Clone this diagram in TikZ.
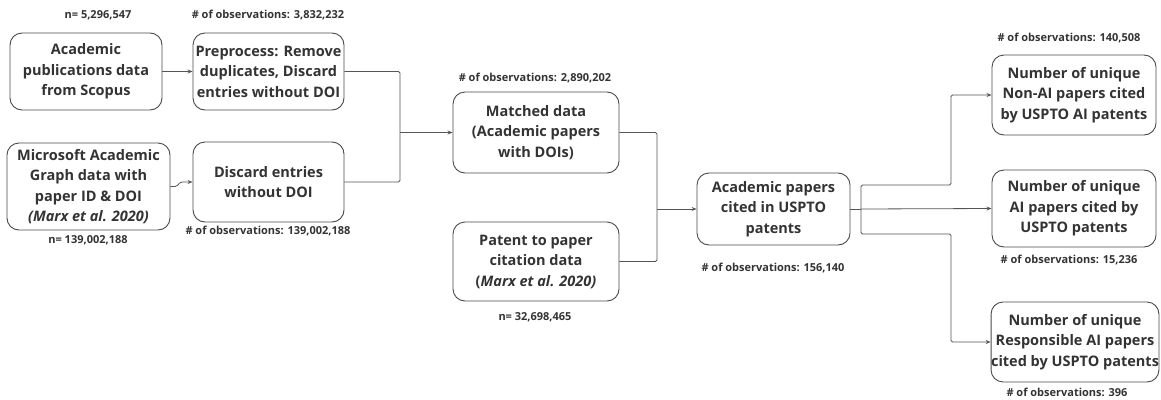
\documentclass[tikz,border=0pt]{standalone}
\usepackage{fontspec}
\setmainfont{Open Sans}
\usetikzlibrary{arrows.meta}
\definecolor{txt}{HTML}{333333}
\definecolor{boxc}{HTML}{4A4A4A}
\definecolor{linec}{HTML}{555555}
\begin{document}
\begin{tikzpicture}[x=1pt,y=-1pt,
 box/.style={draw=boxc, line width=0.9pt, rounded corners=12pt, fill=white, align=center, inner sep=0pt, font=\bfseries\fontsize{14.5}{20.5}\selectfont, text=txt},
 lab/.style={font=\bfseries\fontsize{11}{13}\selectfont, text=txt},
 conn/.style={draw=linec, line width=0.8pt, rounded corners=1.5pt},
 arr/.style={conn, -{Stealth[length=5pt,width=4pt]}}]
\useasboundingbox (0,0) rectangle (1161,399);
\node[box, minimum width=152pt, minimum height=77pt] (a) at (86,71.5) {Academic\\publications data\\from Scopus};
\node[box, minimum width=151pt, minimum height=77pt] (b) at (268.5,71.5) {Preprocess: Remove\\duplicates, Discard\\entries without DOI};
\node[box, minimum width=163pt, minimum height=87pt] (c) at (88.5,186.5) {Microsoft Academic\\Graph data with\\paper ID \& DOI\\\textit{(Marx et al. 2020)}};
\node[box, minimum width=151pt, minimum height=80pt] (d) at (268.5,182) {Discard entries\\without DOI};
\node[box, minimum width=166pt, minimum height=81pt] (e) at (536,132.5) {Matched data\\(Academic papers\\with DOIs)};
\node[box, minimum width=166pt, minimum height=79pt] (f) at (536,261.5) {Patent to paper\\citation data\\(\textit{Marx et al. 2020)}};
\node[box, minimum width=153pt, minimum height=72pt] (g) at (773.5,209) {Academic papers\\cited in USPTO\\patents};
\node[box, minimum width=164pt, minimum height=80pt] (h) at (1074,95) {Number of unique\\Non-AI papers cited\\by USPTO AI patents};
\node[box, minimum width=164pt, minimum height=77pt] (i) at (1074,208.5) {Number of unique\\AI papers cited by\\USPTO patents};
\node[box, minimum width=166pt, minimum height=80pt] (j) at (1075,342) {Number of unique\\Responsible AI papers\\cited by USPTO patents};

\node[lab] (la) at (98,15) {n= 5,296,547};
\node[lab] (lb) at (268,15) {\# of observations: 3,832,232};
\node[lab] (lc) at (88,240) {n= 139,002,188};
\node[lab] (ld) at (268,231) {\# of observations: 139,002,188};
\node[lab] (le) at (535,78) {\# of observations: 2,890,202};
\node[lab] (lf) at (535,317) {n= 32,698,465};
\node[lab] (lg) at (773,268) {\# of observations: 156,140};
\node[lab] (lh) at (1069,38) {\# of observations: 140,508};
\node[lab] (li) at (1069,260) {\# of observations: 15,236};
\node[lab] (lj) at (1067,392) {\# of observations: 396};

\coordinate (m1) at (400,132.5);
\coordinate (m2) at (657,209);
\coordinate (s) at (861,209);
\coordinate (u) at (951,185);
\coordinate (w) at (951,234);

\draw[arr] (a.east) -- (b.west);
\draw[arr] (c.east) -- ++(6,0) -- ++(4,-4.5) -- (d.west);
\draw[conn] (b.east) -| (m1);
\draw[conn] (d.east) -| (m1);
\draw[arr] (m1) -- (e.west);
\draw[conn] (e.east) -| (m2);
\draw[conn] (f.east) -| (m2);
\draw[arr] (m2) -- (g.west);
\draw[conn] (g.east) -- (s);
\draw[arr] (s) |- (u) |- (h.west);
\draw[arr] (s) -- (i.west);
\draw[arr] (s) |- (w) |- (j.west);
\end{tikzpicture}
\end{document}
